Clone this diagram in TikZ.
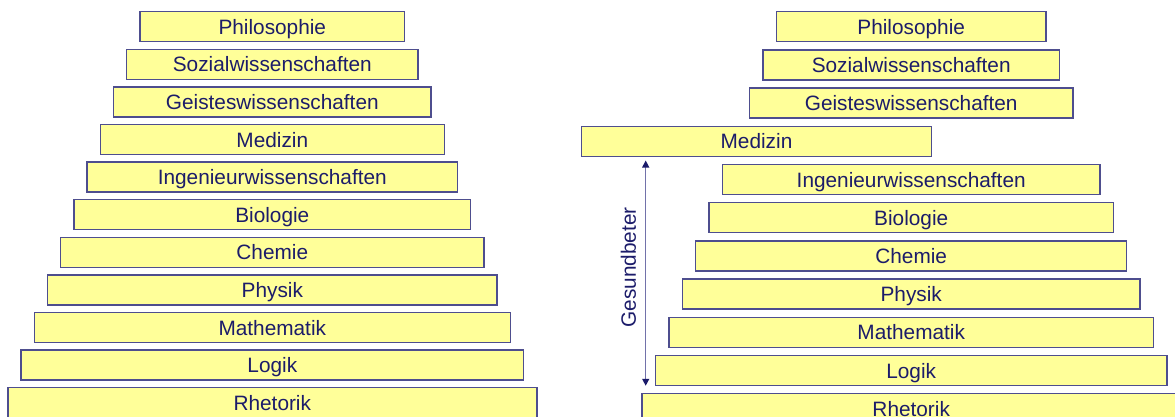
\documentclass[tikz,border=0pt]{standalone}
\usepackage{fontspec}
\setmainfont{Liberation Sans}
\usetikzlibrary{arrows.meta}
\definecolor{boxfill}{HTML}{FFFF99}
\definecolor{boxline}{HTML}{4E4E8E}
\definecolor{txt}{HTML}{1C1C6A}
\definecolor{arrline}{HTML}{7272AA}
\definecolor{arrtip}{HTML}{1A1A6A}
\tikzset{
  lvl/.style={draw=boxline, fill=boxfill, line width=1.4pt, inner sep=0pt,
    minimum height=30pt, text=txt, font=\fontsize{20.8}{24}\selectfont,
    text height=15pt, text depth=0pt},
  arr/.style={draw=arrline, line width=1.3pt,
    {Triangle[length=7pt,width=7pt,color=arrtip]}-{Triangle[length=7pt,width=7pt,color=arrtip]}},
  lbl/.style={text=txt, font=\fontsize{20.8}{24}\selectfont, inner sep=0pt,
    text height=15pt, text depth=0pt}
}
\begin{document}
\begin{tikzpicture}[x=1pt,y=-1pt]
\useasboundingbox (0,0) rectangle (1175,417);
\clip (0,0) rectangle (1175,417);
% left pyramid
\foreach \i/\t/\n in {0/Philosophie/lA,1/Sozialwissenschaften/lB,2/Geisteswissenschaften/lC,3/Medizin/lD,4/Ingenieurwissenschaften/lE,5/Biologie/lF,6/Chemie/lG,7/Physik/lH,8/Mathematik/lI,9/Logik/lJ,10/Rhetorik/lK}{
  \node[lvl, minimum width={2*(132.4+13.21*\i)}] (\n) at (272.3,{26.7+37.6*\i}) {\t};
}
% right pyramid
\foreach \i/\t/\n in {0/Philosophie/rA,1/Sozialwissenschaften/rB,2/Geisteswissenschaften/rC,4/Ingenieurwissenschaften/rE,5/Biologie/rF,6/Chemie/rG,7/Physik/rH,8/Mathematik/rI,9/Logik/rJ,10/Rhetorik/rK}{
  \node[lvl, minimum width={2*(134.8+13.45*\i)}] (\n) at (911.2,{26.7+38.2*\i}) {\t};
}
\node[lvl, minimum width=350] (rD) at (756.5,141.3) {Medizin};
% arrow
\coordinate (atop) at (645.7,160.5);
\coordinate (abot) at (645.7,385.8);
\draw[arr] (atop) -- (abot);
\node[lbl, rotate=90] (gb) at (628.3,267.5) {Gesundbeter};
\end{tikzpicture}
\end{document}
